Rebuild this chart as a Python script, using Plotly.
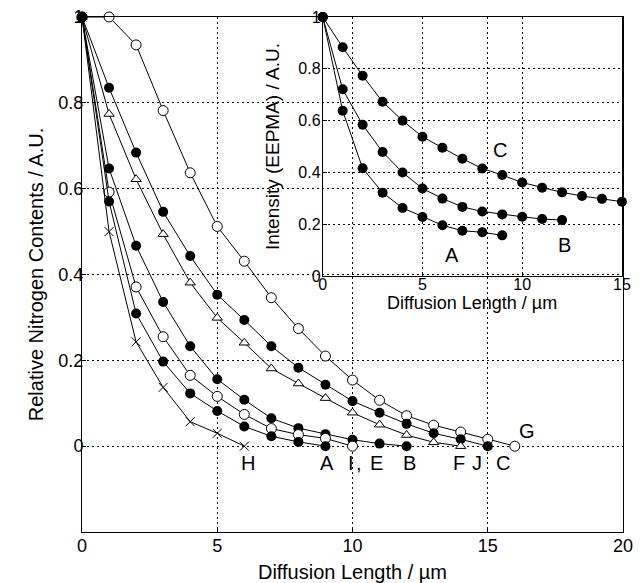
import plotly.graph_objects as go

# ---------------- main chart data ----------------
x_G = list(range(0, 17))
y_G = [1.0, 1.0, 0.935, 0.782, 0.637, 0.512, 0.431, 0.346, 0.274, 0.21, 0.154,
       0.107, 0.071, 0.049, 0.033, 0.016, 0.0]
x_C = list(range(0, 16))
y_C = [1.0, 0.835, 0.684, 0.546, 0.443, 0.353, 0.294, 0.233, 0.183, 0.143, 0.105,
       0.078, 0.052, 0.03, 0.016, 0.0]
x_F = list(range(0, 15))
y_F = [1.0, 0.774, 0.622, 0.494, 0.381, 0.299, 0.241, 0.181, 0.146, 0.112, 0.078,
       0.05, 0.026, 0.009, 0.0]
x_B = list(range(0, 13))
y_B = [1.0, 0.647, 0.467, 0.336, 0.233, 0.156, 0.108, 0.065, 0.042, 0.028, 0.015,
       0.006, 0.0]
x_I = list(range(0, 11))
y_I = [1.0, 0.592, 0.371, 0.255, 0.165, 0.116, 0.074, 0.041, 0.027, 0.018, 0.0]
x_A = list(range(0, 10))
y_A = [1.0, 0.57, 0.309, 0.197, 0.123, 0.082, 0.046, 0.023, 0.01, 0.0]
x_H = list(range(0, 7))
y_H = [1.0, 0.5, 0.243, 0.137, 0.057, 0.03, 0.0]

main_labels = ["H", "A", "I", ",", "E", "B", "F", "J", "C", "G"]
main_label_x = [6.15, 9.05, 9.95, 10.25, 10.9, 12.1, 13.95, 14.6, 15.55, 16.45]
main_label_y = [-0.04, -0.04, -0.04, -0.04, -0.04, -0.04, -0.04, -0.04, -0.04, 0.035]

main_yticks = [0, 0.2, 0.4, 0.6, 0.8, 1.0]
main_yticktext = ["0", "0.2", "0.4", "0.6", "0.8", "1"]
main_xticks = [0, 5, 10, 15, 20]

# ---------------- inset data ----------------
ix_A = list(range(0, 10))
iy_A = [1.0, 0.638, 0.416, 0.322, 0.263, 0.228, 0.196, 0.175, 0.169, 0.157]
ix_B = list(range(0, 13))
iy_B = [1.0, 0.721, 0.584, 0.479, 0.4, 0.338, 0.299, 0.267, 0.249, 0.238, 0.229,
        0.22, 0.216]
ix_C = list(range(0, 16))
iy_C = [1.0, 0.883, 0.773, 0.673, 0.6, 0.538, 0.495, 0.453, 0.415, 0.39, 0.361,
        0.341, 0.323, 0.309, 0.298, 0.287]

inset_labels = ["A", "B", "C"]
inset_label_x = [6.5, 12.1, 8.9]
inset_label_y = [0.08, 0.12, 0.485]
inset_yticks = [0, 0.2, 0.4, 0.6, 0.8, 1.0]
inset_yticktext = ["0", "0.2", "0.4", "0.6", "0.8", "1"]
inset_xticks = [0, 5, 10, 15]

FONT = "Liberation Sans, Arial, sans-serif"
BLACK = "black"

fig = go.Figure()

open_c = dict(symbol="circle", size=10, color="white", line=dict(width=1, color=BLACK))
fill_c = dict(symbol="circle", size=10, color=BLACK)
tri = dict(symbol="triangle-up", size=9, color="white", line=dict(width=1, color=BLACK))
cross = dict(symbol="x-thin-open", size=9, color=BLACK, line=dict(width=1, color=BLACK))

series = [
    (x_G, y_G, open_c),
    (x_C, y_C, fill_c),
    (x_F, y_F, tri),
    (x_B, y_B, fill_c),
    (x_I, y_I, open_c),
    (x_A, y_A, fill_c),
    (x_H, y_H, cross),
]
for xs, ys, mk in series:
    fig.add_trace(go.Scatter(x=xs, y=ys, mode="lines+markers",
                             line=dict(color=BLACK, width=1), marker=mk,
                             xaxis="x", yaxis="y", showlegend=False, cliponaxis=False))

for xs, ys in [(ix_A, iy_A), (ix_B, iy_B), (ix_C, iy_C)]:
    fig.add_trace(go.Scatter(x=xs, y=ys, mode="lines+markers",
                             line=dict(color=BLACK, width=1),
                             marker=dict(symbol="circle", size=10, color=BLACK),
                             xaxis="x2", yaxis="y2", showlegend=False, cliponaxis=False))

annotations = []
for t, xv, yv in zip(main_labels, main_label_x, main_label_y):
    annotations.append(dict(x=xv, y=yv, xref="x", yref="y", text=t, showarrow=False,
                            font=dict(family=FONT, size=20, color=BLACK)))
for t, xv, yv in zip(inset_labels, inset_label_x, inset_label_y):
    annotations.append(dict(x=xv, y=yv, xref="x2", yref="y2", text=t, showarrow=False,
                            font=dict(family=FONT, size=20, color=BLACK)))
# inset x-axis title
annotations.append(dict(x=0.5, y=0, xref="x2 domain", yref="y2 domain", yanchor="middle",
                        yshift=-27, text="Diffusion Length / µm", showarrow=False,
                        font=dict(family=FONT, size=18, color=BLACK)))

grid = dict(showgrid=True, gridcolor=BLACK, gridwidth=1, griddash="2px,3px",
            zeroline=False, showline=True, linecolor=BLACK, linewidth=1, mirror=True,
            ticks="inside", ticklen=4, tickcolor=BLACK, automargin=False)
main_tf = dict(family=FONT, size=18, color=BLACK)
inset_tf = dict(family=FONT, size=16, color=BLACK)

fig.update_layout(
    width=642, height=583,
    margin=dict(l=82, r=19, t=17, b=51),
    paper_bgcolor="white", plot_bgcolor="rgba(0,0,0,0)",
    font=dict(family=FONT, color=BLACK),
    xaxis=dict(domain=[0, 1], range=[0, 20], tickvals=main_xticks, ticklabelstandoff=-3,
               tickfont=main_tf,
               title=dict(text="Diffusion Length / µm", font=dict(family=FONT, size=20), standoff=10),
               **grid),
    yaxis=dict(domain=[0, 1], range=[-0.2, 1], tickvals=main_yticks, ticktext=main_yticktext,
               ticklabelstandoff=-6, tickfont=main_tf,
               title=dict(text="Relative Nitrogen Contents / A.U.", font=dict(family=FONT, size=20), standoff=9),
               **grid),
    xaxis2=dict(domain=[0.445, 0.998], range=[0, 15], tickvals=inset_xticks, anchor="y2",
                ticklabelstandoff=-6, tickfont=inset_tf, **grid),
    yaxis2=dict(domain=[0.497, 1.0], range=[0, 1], tickvals=inset_yticks, ticktext=inset_yticktext,
                anchor="x2", ticklabelstandoff=-2, tickfont=inset_tf,
                title=dict(text="Intensity (EEPMA) / A.U.", font=dict(family=FONT, size=19), standoff=13),
                **grid),
    annotations=annotations,
    shapes=[dict(type="rect", xref="x2 domain", yref="y2 domain", x0=0, x1=1, y0=0, y1=1,
                 fillcolor="white", opacity=0.7, line=dict(width=0), layer="below")],
)

fig.write_html("out.html", config={"displayModeBar": False},
               post_script="document.body.style.margin='0';document.body.style.padding='0';")
